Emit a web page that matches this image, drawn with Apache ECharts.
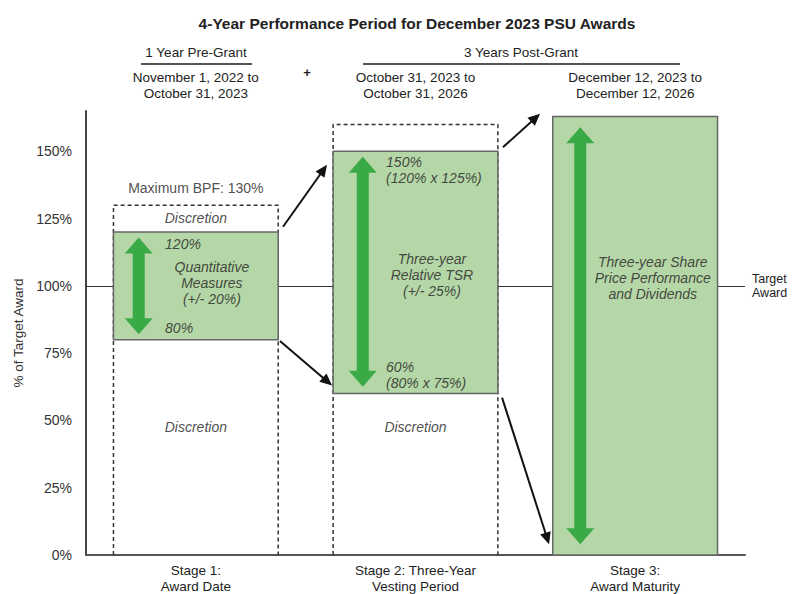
<!DOCTYPE html>
<html lang="en">
<head>
    <meta charset="UTF-8">
    <title>4-Year Performance Period for December 2023 PSU Awards</title>
</head>
<body style="margin:0">
<div style="width: 792px;height: 594px;" id="psuChart"></div>
</body>
<script src="https://cdn.jsdelivr.net/npm/echarts@6/dist/echarts.min.js"></script>
<script type="text/javascript">
  const FONT = 'Liberation Sans';

  // stages along the bottom axis
  const stageNames = ['Stage 1:\nAward Date', 'Stage 2: Three-Year\nVesting Period', 'Stage 3:\nAward Maturity'];
  // dates above each stage
  const periodLabels = ['November 1, 2022 to\nOctober 31, 2023', 'October 31, 2023 to\nOctober 31, 2026', 'December 12, 2023 to\nDecember 12, 2026'];

  // % of target award
  const targetLevel = 100;
  const dashedTop = [130, 160, null];
  const greenLow = [80, 60, 0];
  const greenHigh = [120, 150, 163];

  // green double arrows inside each stage (x in stage units)
  const rangeArrowX = [0.24, 1.26, 2.25];
  const rangeArrowLow = [82, 62.5, 4];
  const rangeArrowHigh = [118, 148, 159];

  // black arrows between stages: [x0, y0, x1, y1]
  const flowArrows = [
    [0.897, 122, 1.097, 145],
    [0.883, 79.5, 1.12, 63],
    [1.898, 151.5, 2.067, 164],
    [1.894, 58.5, 2.108, 4],
  ];

  // text notes: [x, y, text]
  const capNotes = [[0.5, 136.3, 'Maximum BPF: 130%']];
  const centerNotes = [
    [0.5, 125.3, 'Discretion'],
    [0.573, 101, 'Quantitative\nMeasures\n(+/- 20%)'],
    [0.5, 47.4, 'Discretion'],
    [1.575, 103.9, 'Three-year\nRelative TSR\n(+/- 25%)'],
    [1.5, 47.4, 'Discretion'],
    [2.58, 102.8, 'Three-year Share\nPrice Performance\nand Dividends'],
  ];
  const boundNotes = [
    [0.36, 115.7, '120%'],
    [0.36, 84.3, '80%'],
    [1.366, 143.2, '150%\n(120% x 125%)'],
    [1.366, 67, '60%\n(80% x 75%)'],
  ];

  const GREEN_FILL = '#b5d6a7';
  const GREEN_ARROW = '#3aaa47';

  function noteData(list) {
    return list.map(n => ({value: [n[0], n[1]], name: n[2]}));
  }

  function renderStage(params, api) {
    const i = api.value(0);
    const half = 0.375;
    const xl = api.coord([i + 0.5 - half, 0])[0];
    const xr = api.coord([i + 0.5 + half, 0])[0];
    const y0 = api.coord([0, 0])[1];
    const children = [];

    const top = api.value(1);
    if (top > 0) {
      const yt = api.coord([0, top])[1];
      children.push({
        type: 'polyline',
        shape: {points: [[xl, y0], [xl, yt], [xr, yt], [xr, y0]]},
        style: {stroke: '#333', lineWidth: 1.5, lineDash: [4, 3], fill: null},
      });
    }

    const yl = api.coord([0, api.value(2)])[1];
    const yh = api.coord([0, api.value(3)])[1];
    children.push({
      type: 'rect',
      shape: {x: xl, y: yh, width: xr - xl, height: yl - yh},
      style: {fill: GREEN_FILL, stroke: '#666', lineWidth: 1.5},
    });

    // double headed arrow
    const ax = api.coord([api.value(4), 0])[0];
    const ya = api.coord([0, api.value(6)])[1];
    const yb = api.coord([0, api.value(5)])[1];
    const hw = 14, sw = 6, hh = 16;
    children.push({
      type: 'polygon',
      shape: {
        points: [
          [ax, ya], [ax + hw, ya + hh], [ax + sw, ya + hh], [ax + sw, yb - hh],
          [ax + hw, yb - hh], [ax, yb], [ax - hw, yb - hh], [ax - sw, yb - hh],
          [ax - sw, ya + hh], [ax - hw, ya + hh]],
      },
      style: {fill: GREEN_ARROW},
    });

    return {type: 'group', children: children};
  }

  function renderFlow(params, api) {
    const p0 = api.coord([api.value(0), api.value(1)]);
    const p1 = api.coord([api.value(2), api.value(3)]);
    const dx = p1[0] - p0[0], dy = p1[1] - p0[1];
    const len = Math.sqrt(dx * dx + dy * dy);
    const ux = dx / len, uy = dy / len;
    const head = 12, hw = 5.5;
    const bx = p1[0] - ux * head, by = p1[1] - uy * head;
    return {
      type: 'group',
      children: [
        {
          type: 'line',
          shape: {x1: p0[0], y1: p0[1], x2: bx + ux * 2, y2: by + uy * 2},
          style: {stroke: '#111', lineWidth: 2},
        }, {
          type: 'polygon',
          shape: {points: [[p1[0], p1[1]], [bx - uy * hw, by + ux * hw], [bx + uy * hw, by - ux * hw]]},
          style: {fill: '#111'},
        }],
    };
  }

  const option = {
    animation: false,
    backgroundColor: '#fff',
    textStyle: {fontFamily: FONT},
    title: {
      text: '4-Year Performance Period for December 2023 PSU Awards',
      left: 412, top: 10, textAlign: 'center',
      textStyle: {fontFamily: FONT, fontSize: 15.5, fontWeight: 'bold', color: '#222'},
    },
    grid: {left: 86, right: 47, top: 111, bottom: 36},
    xAxis: [
      {
        type: 'category', data: stageNames, position: 'bottom',
        axisLine: {lineStyle: {color: '#555', width: 2}},
        axisTick: {show: false},
        axisLabel: {color: '#222', fontSize: 13.5, lineHeight: 16, margin: 7, fontFamily: FONT},
      }, {
        type: 'value', min: 0, max: 3, show: false, position: 'bottom',
      }, {
        type: 'category', data: periodLabels, position: 'top',
        axisLine: {show: false}, axisTick: {show: false},
        axisLabel: {color: '#222', fontSize: 13.5, lineHeight: 16, margin: 10, fontFamily: FONT},
      }],
    yAxis: {
      type: 'value', min: 0, max: 165, interval: 25,
      axisLine: {show: true, lineStyle: {color: '#444', width: 2}},
      axisTick: {show: false},
      splitLine: {show: false},
      axisLabel: {
        color: '#333', fontSize: 14, margin: 14, fontFamily: FONT,
        formatter: v => (v % 25 === 0 ? v + '%' : ''),
      },
      name: '% of Target Award', nameLocation: 'middle', nameGap: 58, nameRotate: 90,
      nameTextStyle: {color: '#333', fontSize: 13.5, fontFamily: FONT},
    },
    graphic: [
      {type: 'text', x: 196, y: 52, style: {text: '1 Year Pre-Grant', textAlign: 'center', textVerticalAlign: 'middle', fontSize: 13.5, fontFamily: FONT, fill: '#222'}},
      {type: 'line', shape: {x1: 141, y1: 64, x2: 252, y2: 64}, style: {stroke: '#555', lineWidth: 2}},
      {type: 'text', x: 521, y: 52, style: {text: '3 Years Post-Grant', textAlign: 'center', textVerticalAlign: 'middle', fontSize: 13.5, fontFamily: FONT, fill: '#222'}},
      {type: 'line', shape: {x1: 363, y1: 64, x2: 680, y2: 64}, style: {stroke: '#555', lineWidth: 2}},
      {type: 'text', x: 307, y: 72, style: {text: '+', textAlign: 'center', textVerticalAlign: 'middle', fontSize: 13, fontWeight: 'bold', fontFamily: FONT, fill: '#222'}},
    ],
    series: [
      {
        type: 'line', xAxisIndex: 1, data: [], z: 1, silent: true,
        markLine: {
          symbol: 'none', silent: true, z: 1,
          data: [{yAxis: targetLevel}],
          lineStyle: {color: '#333', width: 1, type: 'solid'},
          label: {
            formatter: 'Target\nAward', position: 'end', distance: 7,
            color: '#222', fontSize: 12.5, lineHeight: 14, align: 'left', fontFamily: FONT,
          },
        },
      }, {
        type: 'custom', xAxisIndex: 1, z: 3, silent: true,
        renderItem: renderStage,
        encode: {x: 4, y: 3},
        data: stageNames.map((n, i) => [i, dashedTop[i] || -1, greenLow[i], greenHigh[i], rangeArrowX[i], rangeArrowLow[i], rangeArrowHigh[i]]),
      }, {
        type: 'custom', xAxisIndex: 1, z: 4, silent: true,
        renderItem: renderFlow,
        encode: {x: 0, y: 1},
        data: flowArrows,
      }, {
        type: 'scatter', xAxisIndex: 1, z: 5, symbolSize: 0, silent: true,
        data: noteData(capNotes),
        label: {show: true, position: 'inside', formatter: '{b}', color: '#222', fontSize: 14, fontFamily: FONT},
      }, {
        type: 'scatter', xAxisIndex: 1, z: 5, symbolSize: 0, silent: true,
        data: noteData(centerNotes),
        label: {
          show: true, position: 'inside', formatter: '{b}', color: '#222', fontSize: 14,
          fontStyle: 'italic', lineHeight: 16, align: 'center', fontFamily: FONT,
        },
      }, {
        type: 'scatter', xAxisIndex: 1, z: 5, symbolSize: 0, silent: true,
        data: noteData(boundNotes),
        label: {
          show: true, position: 'right', distance: 0, formatter: '{b}', color: '#222', fontSize: 14,
          fontStyle: 'italic', lineHeight: 16, align: 'left', fontFamily: FONT,
        },
      }],
  };

  const chart = echarts.init(document.getElementById('psuChart'), null, {renderer: 'svg'});
  chart.setOption(option);
</script>
</html>
